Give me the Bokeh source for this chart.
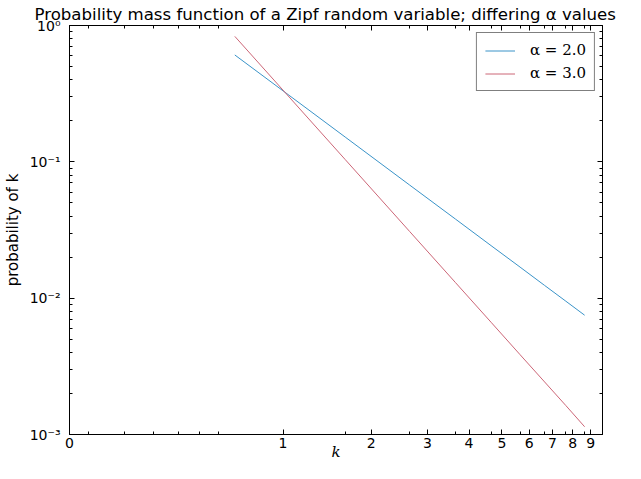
from bokeh.plotting import figure
from bokeh.models import (Range1d, FixedTicker, Legend, LegendItem, LogAxis,
                          ColumnDataSource, BasicTickFormatter)
from bokeh.embed import file_html
from bokeh.resources import INLINE

# ---- data ----
k = [1, 2, 3, 4, 5, 6, 7, 8, 9]
pmf_alpha2 = [0.608, 0.152, 0.0675, 0.038, 0.0243, 0.0169, 0.0124, 0.0095, 0.0075]
pmf_alpha3 = [0.832, 0.104, 0.0308, 0.013, 0.00666, 0.00385, 0.00243, 0.00163, 0.00114]
series_labels = ["α = 2.0", "α = 3.0"]
series_colors = ["#3a93c8", "#cc6677"]
x_tick_labels = ["0", "1", "2", "3", "4", "5", "6", "7", "8", "9"]
y_tick_values = [0.001, 0.01, 0.1, 1.0]
y_tick_labels = ["10⁻³", "10⁻²", "10⁻¹", "10⁰"]
title_text = "Probability mass function of a Zipf random variable; differing α values"

x_lo, x_hi = 0.354, 10.07
y_lo, y_hi = 1e-3, 1.0

x_major = [round(x_lo + i, 3) for i in range(len(x_tick_labels))]
x_minor = [m * 10.0 ** d for d in (-1, 0) for m in range(2, 10) if x_lo < m * 10.0 ** d < x_hi]
y_minor = [m * 10.0 ** d for d in (-3, -2, -1) for m in range(2, 10)]

p = figure(width=625, height=463, x_axis_type="log", y_axis_type="log",
           x_range=Range1d(x_lo, x_hi), y_range=Range1d(y_lo, y_hi),
           output_backend="svg", toolbar_location=None, title=title_text,
           min_border_left=60, min_border_right=23, min_border_top=21, min_border_bottom=0)

p.title.text_font = "DejaVu Sans"
p.title.text_font_size = "16.6px"
p.title.text_font_style = "normal"
p.title.text_color = "black"
p.title.align = "left"
p.title.standoff = 4
p.title.offset = -35

p.xgrid.visible = False
p.ygrid.visible = False
p.outline_line_color = "black"
p.outline_line_width = 1
p.background_fill_color = "white"
p.border_fill_color = "white"

src = ColumnDataSource(dict(k=k, a2=pmf_alpha2, a3=pmf_alpha3))
r1 = p.line("k", "a2", source=src, line_color=series_colors[0], line_width=1)
r2 = p.line("k", "a3", source=src, line_color=series_colors[1], line_width=1)

xt = FixedTicker(ticks=x_major, minor_ticks=x_minor)
yt = FixedTicker(ticks=y_tick_values, minor_ticks=y_minor)

def style_axis(ax):
    ax.axis_line_color = "black"
    ax.major_tick_line_color = "black"
    ax.minor_tick_line_color = "black"
    ax.major_tick_in = 5
    ax.major_tick_out = 0
    ax.minor_tick_in = 3
    ax.minor_tick_out = 0
    ax.major_label_text_font = "DejaVu Sans"
    ax.major_label_text_font_size = "14px"
    ax.major_label_text_color = "black"
    ax.axis_label_text_font_size = "15px"
    ax.axis_label_text_font_style = "normal"
    ax.axis_label_text_color = "black"

xa = p.xaxis[0]
style_axis(xa)
xa.ticker = xt
xa.major_label_overrides = {t: lab for t, lab in zip(x_major, x_tick_labels)}
xa.major_label_standoff = 3
xa.axis_label = "k"
xa.axis_label_text_font = "DejaVu Serif"
xa.axis_label_text_font_style = "italic"
xa.axis_label_standoff = -8

ya = p.yaxis[0]
style_axis(ya)
ya.ticker = yt
ya.major_label_overrides = {t: lab for t, lab in zip(y_tick_values, y_tick_labels)}
ya.major_label_standoff = 9
ya.axis_label = "probability of k"
ya.axis_label_text_font = "DejaVu Sans"
ya.axis_label_standoff = 5

# mirrored ticks on top and right (labels hidden)
def mirror_axis():
    ax = LogAxis(formatter=BasicTickFormatter())
    style_axis(ax)
    ax.major_label_text_font_size = "1px"
    ax.major_label_text_alpha = 0
    ax.major_label_standoff = 0
    return ax

top = mirror_axis()
top.ticker = FixedTicker(ticks=x_major, minor_ticks=x_minor)
p.add_layout(top, "above")

right = mirror_axis()
right.ticker = FixedTicker(ticks=y_tick_values, minor_ticks=y_minor)
p.add_layout(right, "right")

legend = Legend(items=[LegendItem(label=series_labels[0], renderers=[r1]),
                       LegendItem(label=series_labels[1], renderers=[r2])],
                location="top_right")
legend.border_line_color = "black"
legend.border_line_width = 1
legend.background_fill_color = "white"
legend.background_fill_alpha = 1
legend.margin = 7
legend.padding = 8
legend.spacing = 5
legend.glyph_width = 30
legend.glyph_height = 17
legend.label_height = 17
legend.label_standoff = 15
legend.label_text_font = "DejaVu Serif"
legend.label_text_font_size = "15px"
legend.label_text_color = "black"
p.add_layout(legend)

open("out.html", "w").write(file_html(p, INLINE))
